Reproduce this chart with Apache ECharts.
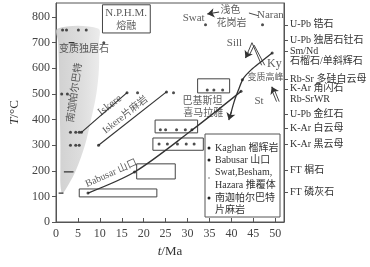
<!DOCTYPE html>
<html><head><meta charset="utf-8">
<script src="https://cdn.jsdelivr.net/npm/echarts@6/dist/echarts.min.js"></script>
<style>html,body{margin:0;padding:0;background:#fff}#c{width:370px;height:267px}</style>
</head><body><div id="c"></div>
<script>
const FONT = '"Liberation Serif","Noto Sans CJK SC",serif';
const INK = '#333';

// axes
const xMin = 0, xMax = 52, xStep = 5;
const yMin = 0, yMax = 855, yStep = 100;

// right-hand closure temperature scale
const closureNames = ['U-Pb 锆石','U-Pb 独居石钍石','Sm/Nd','石榴石/单斜辉石','Rb-Sr 多硅白云母','K-Ar 角闪石','Rb-SrWR','U-Pb 金红石','K-Ar 白云母','K-Ar 黑云母','FT 榍石','FT 磷灰石'];
const closureTemps = [770, 711, 666, 629, 558, 520, 480, 422, 367, 305, 203, 117];
const closureTicked = [true, true, true, false, true, true, false, true, true, true, true, true];

// Nanga Parbat shaded band
const bandT     = [755, 700, 600, 500, 400, 300, 200, 150, 112];
const bandLeft  = [0.4, 0.5, 0.7, 0.8, 0.9, 1.0, 1.0, 1.0, 1.3];
const bandRight = [9.6, 9.8, 9.8, 9.2, 8.0, 6.6, 4.5, 3.0, 1.6];

// age/temperature boxes: [t from, t to, T low, T high]
const boxTimeFrom = [5.3, 18.4, 22.1, 22.6, 32.3, 10.6];
const boxTimeTo   = [23.0, 27.2, 33.6, 32.3, 39.6, 21.5];
const boxTempLow  = [98, 168, 280, 348, 504, 738];
const boxTempHigh = [129, 227, 328, 398, 559, 848];

// cooling paths [t, T]
const babusarPath = [[7.3,113],[17.9,195],[30.5,352],[42.2,510]];
const iskerePath = [[5.8,350],[16.2,505]];
const iskereGneissPath = [[9.7,300],[25.2,508]];
const kaghanPath = [[49.3,660],[46.7,625],[44.5,594],[42.7,560],[41.6,515],[40.6,468],[39.6,405]];

// sample points
const dotTime = [1.5,2.4,5.1,6.9, 10.9, 1.3,2.6, 5.8,16.2,9.7,25.2,18.6,26.8, 7.3,17.9,42.2, 42.5,49.3, 34.1,47.1,
                 3.3,4.5,5.3,3.3,4.5,5.3, 23.5,25.4,27.7,29.7,31.5, 23.8,25.0,27.5,29.5,31.0, 34.5,36.0,38.0];
const dotTemp = [750,750,750,750, 700, 500,500, 350,505,300,508,505,505, 113,195,510, 555,660, 770,770,
                 350,350,350,300,300,300, 305,305,305,305,305, 360,360,360,360,360, 515,515,515];

// short horizontal bars [t from, t to, T]
const barFrom = [2.9, 1.8, 0.6];
const barTo   = [4.2, 4.0, 1.7];
const barTemp = [700, 196, 113];

// hollow arrows (double lines) and arrow heads
const sillOuter = [[46.9,612],[44.7,700],[43.5,652]];
const sillInner = [[47.6,612],[45.2,690],[44.2,655]];
const stLineA = [[50.3,470],[49.3,512]];
const stLineB = [[50.9,470],[49.9,512]];
const arrowFrom = [[43.9,662],[49.7,510],[40.0,430],[37.2,820]];
const arrowTo   = [[43.2,640],[49.2,528],[39.4,398],[34.5,812]];
const plainLines = [[[44.0,816],[46.2,805]]];

// annotations
const annText   = ['N.P.H.M.','熔融','变质独居石','南迦帕尔巴特','Iskere','Iskere片麻岩','Babusar 山口','巴基斯坦','喜马拉雅','Swat','浅色','花岗岩','Naran','Sill','Ky','变质高峰','St'];
const annTime   = [16.0,16.0,6.4,4.3,12.3,15.8,12.6,33.4,33.6,31.4,39.8,40.0,48.9,40.7,49.8,47.8,46.3];
const annTemp   = [816,762,672,505,455,418,190,469,426,797,828,777,808,699,616,562,473];
const annRotate = [0,0,0,82,38,38,24,0,0,0,0,0,0,0,0,0,0];
const annSize   = [11,10,10,10,11,10,10,10,10,11,10,10,11,11,12,9,11];

// legend
const legendNames = [['Kaghan 榴辉岩'],['Babusar 山口'],['Swat,Besham,','Hazara 推覆体'],['南迦帕尔巴特','片麻岩']];

const chart = echarts.init(document.getElementById('c'), null, {renderer:'canvas'});

const segSeries = [];
for (let i = 0; i < barFrom.length; i++) {
  segSeries.push({type:'line', data:[[barFrom[i],barTemp[i]],[barTo[i],barTemp[i]]], symbol:'none',
    lineStyle:{color:INK, width:1.2}, z:4, silent:true});
}
plainLines.forEach(p => segSeries.push({type:'line', data:p, symbol:'none', lineStyle:{color:INK,width:0.9}, silent:true}));
[sillOuter, sillInner, stLineA, stLineB].forEach(p => segSeries.push({type:'line', data:p, symbol:'none', lineStyle:{color:INK,width:0.9}, silent:true}));

const arrowData = arrowFrom.map((a,i) => [{coord:a},{coord:arrowTo[i]}]);

// legend graphics
const lg = [];
const lx = 205, ly = 134;
lg.push({type:'rect', shape:{x:lx, y:ly, width:75, height:83}, style:{fill:'#fff', stroke:'#555', lineWidth:1}});
const rowY = [[148],[160],[172,185],[198,210]];
const dotY = [148,160,178,198];
const dotCol = ['#222','#222','#aaa','#222'];
legendNames.forEach((lines,i) => {
  lg.push({type:'circle', shape:{cx:lx+4, cy:dotY[i], r: i===2?1:1.5}, style:{fill:dotCol[i]}});
  lines.forEach((t,j) => lg.push({type:'text', x:lx+10, y:rowY[i][j], style:{text:t, font:'10px '+FONT, fill:INK, verticalAlign:'middle'}}));
});

const option = {
  animation:false,
  backgroundColor:'#fff',
  grid:{left:49, right:86, top:3, bottom:45, show:true, borderColor:'#555', borderWidth:1, backgroundColor:'transparent'},
  xAxis:{type:'value', min:xMin, max:xMax, interval:xStep,
    name:'{i|t}/Ma', nameLocation:'middle', nameGap:22,
    nameTextStyle:{fontFamily:FONT, fontSize:13, color:INK, rich:{i:{fontStyle:'italic', fontFamily:FONT, fontSize:13, color:INK}}},
    axisLine:{lineStyle:{color:'#555'}}, axisTick:{inside:true, length:4, lineStyle:{color:'#555'}},
    axisLabel:{fontFamily:FONT, fontSize:12, color:'#444', margin:6, showMaxLabel:false}, splitLine:{show:false}},
  yAxis:[
    {type:'value', min:yMin, max:yMax, interval:yStep, position:'left',
      name:'{i|T}/°C', nameLocation:'middle', nameGap:35,
      nameTextStyle:{fontFamily:FONT, fontSize:13, color:INK, rich:{i:{fontStyle:'italic', fontFamily:FONT, fontSize:13, color:INK}}},
      axisLine:{show:true, lineStyle:{color:'#555'}}, axisTick:{show:true, length:4, lineStyle:{color:'#555'}},
      axisLabel:{fontFamily:FONT, fontSize:12, color:'#444', margin:6, showMaxLabel:false}, splitLine:{show:false}},
    {type:'value', min:yMin, max:yMax, position:'right',
      axisLine:{show:true, lineStyle:{color:'#555'}},
      axisTick:{show:true, length:4, lineStyle:{color:'#555'}, customValues: closureTemps.filter((v,i)=>closureTicked[i])},
      axisLabel:{fontFamily:FONT, fontSize:10, color:INK, margin:6, customValues: closureTemps,
        formatter: v => { const k = closureTemps.indexOf(v); return k>=0 ? closureNames[k] : ''; }},
      splitLine:{show:false}}
  ],
  graphic: {elements: lg.map(e => Object.assign({z:100}, e))},
  series:[
    {type:'custom', silent:true, z:1, data:[[0,0]],
      renderItem:(params, api) => {
        const pts = [];
        for (let i = 0; i < bandT.length; i++) pts.push(api.coord([bandLeft[i], bandT[i]]));
        for (let i = bandT.length-1; i >= 0; i--) pts.push(api.coord([bandRight[i], bandT[i]]));
        return {type:'polygon', shape:{points:pts, smooth:0.35},
          style:{fill:new echarts.graphic.LinearGradient(0,0,1,0,[{offset:0,color:'#d0d0d0'},{offset:0.6,color:'#dedede'},{offset:1,color:'#ececec'}])}};
      }},
    {type:'custom', silent:true, z:3,
      data: boxTimeFrom.map((t,i) => [t, boxTimeTo[i], boxTempLow[i], boxTempHigh[i], i===5?1:0]),
      renderItem:(params, api) => {
        const p0 = api.coord([api.value(0), api.value(3)]);
        const p1 = api.coord([api.value(1), api.value(2)]);
        return {type:'rect', shape:{x:p0[0], y:p0[1], width:p1[0]-p0[0], height:p1[1]-p0[1]},
          style:{fill: api.value(4) ? '#fff' : 'none', stroke:'#444', lineWidth:1}};
      }},
    {type:'line', data:babusarPath, smooth:0.3, symbol:'none', lineStyle:{color:INK, width:1.3}, z:5, silent:true},
    {type:'line', data:iskerePath, symbol:'none', lineStyle:{color:INK, width:1.2}, z:5, silent:true},
    {type:'line', data:iskereGneissPath, symbol:'none', lineStyle:{color:INK, width:1.2}, z:5, silent:true},
    {type:'line', data:kaghanPath, smooth:0.3, symbol:'none', lineStyle:{color:INK, width:1.3}, z:5, silent:true,
      markLine:{silent:true, symbol:['none','arrow'], symbolSize:7, label:{show:false},
        lineStyle:{color:INK, width:1.1, type:'solid'}, data:arrowData}},
    ...segSeries,
    {type:'scatter', data:dotTime.map((t,i)=>[t,dotTemp[i]]), symbolSize:3, itemStyle:{color:'#222'}, z:6, silent:true},
    {type:'scatter', symbolSize:0, z:7, silent:true,
      data: annText.map((s,i) => ({value:[annTime[i], annTemp[i]], name:s,
        label:{rotate:annRotate[i], fontSize:annSize[i]}})),
      label:{show:true, position:'inside', formatter:'{b}', fontFamily:FONT, color:INK, align:'center', verticalAlign:'middle'}}
  ]
};
chart.setOption(option);
</script>
</body></html>
